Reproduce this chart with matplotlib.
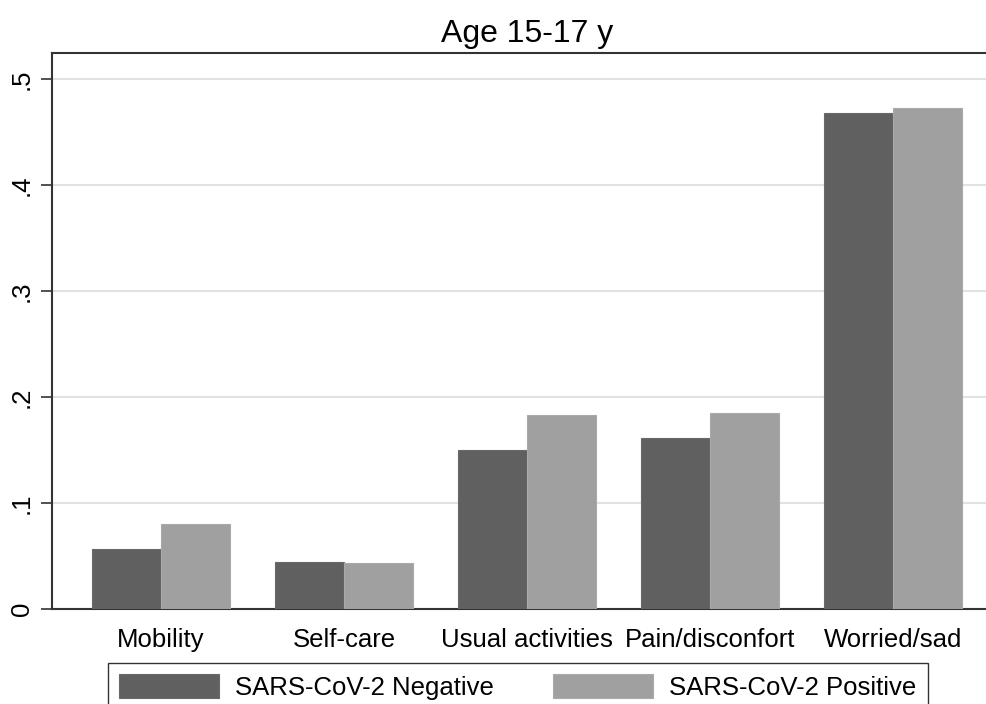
import numpy as np
import matplotlib
matplotlib.use("Agg")
import matplotlib.pyplot as plt

plt.rcParams['font.family'] = ['Liberation Sans', 'DejaVu Sans']

# datos
categorias = ["Mobility", "Self-care", "Usual activities", "Pain/disconfort", "Worried/sad"]
negativos = [0.057, 0.044, 0.150, 0.161, 0.468]
positivos = [0.080, 0.043, 0.183, 0.185, 0.473]
series = ["SARS-CoV-2 Negative", "SARS-CoV-2 Positive"]
yticks = [0, 0.1, 0.2, 0.3, 0.4, 0.5]
ytick_labels = ["0", ".1", ".2", ".3", ".4", ".5"]

fig = plt.figure(figsize=(9.87, 7.04), dpi=100)
ax = fig.add_axes([0.0527, 0.1349, 0.9625, 0.7898])

x = np.arange(len(categorias))
ancho = 0.375
ax.bar(x - ancho / 2, negativos, ancho, color="#606060", edgecolor="#6a6a6a",
       linewidth=0.8, label=series[0], zorder=3)
ax.bar(x + ancho / 2, positivos, ancho, color="#a0a0a0", edgecolor="#aaaaaa",
       linewidth=0.8, label=series[1], zorder=3)

ax.set_xlim(-0.596, 4.596)
ax.set_ylim(0, 0.5245)
ax.set_yticks(yticks)
ax.set_yticklabels(ytick_labels, rotation=90, va="center", fontsize=18.5)
ax.set_xticks(x)
ax.set_xticklabels(categorias, fontsize=18.5)
ax.tick_params(axis="x", length=0, pad=14)
ax.tick_params(axis="y", length=8, width=1.2, color="#333333", pad=5)
ax.yaxis.grid(True, color="#e2e2e2", linewidth=1.5, zorder=0)
ax.set_axisbelow(True)
for s in ax.spines.values():
    s.set_color("#333333")
    s.set_linewidth(1.5)

ax.set_title("Age 15-17 y", fontsize=23, pad=8)

# leyenda abajo, cortada por el borde como en el original
fig.legend(loc="upper left", bbox_to_anchor=(108 / 987, 1 - 663 / 704), ncol=2,
           fontsize=18.5, handlelength=3.9, handleheight=1.05, handletextpad=0.62,
           columnspacing=2.3, borderpad=0.43, borderaxespad=0, frameon=True,
           fancybox=False, edgecolor="#333333", framealpha=1)

fig.savefig("out.png", dpi=100)
